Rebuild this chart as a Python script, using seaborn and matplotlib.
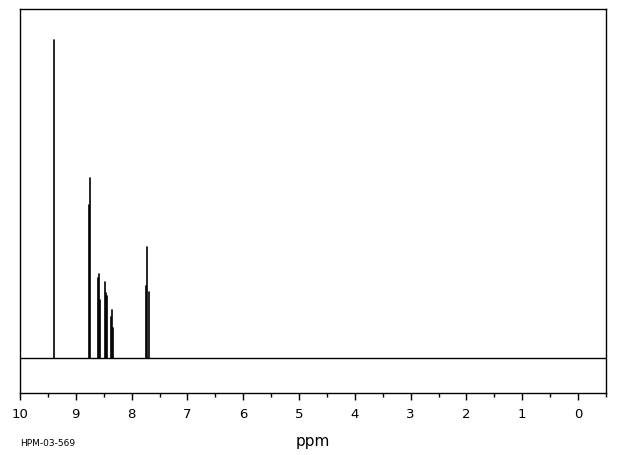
import numpy as np
import pandas as pd
import matplotlib
matplotlib.use("Agg")
import matplotlib.pyplot as plt
import seaborn as sns
from matplotlib.ticker import MultipleLocator

# peak positions (ppm) and heights (arbitrary units)
peak_ppm = [9.385, 8.758, 8.740, 8.597, 8.579, 8.561, 8.471, 8.453, 8.435,
            8.369, 8.351, 8.333, 7.742, 7.724, 7.683]
peak_height = [318, 153, 180, 80, 84, 58, 76, 65, 62, 41, 48, 30, 72, 111, 66]
tick_ppm = list(range(0, 11))
sample_id = "HPM-03-569"

# stick spectrum: each peak goes from the baseline up to its height
rows = []
for i, (p, h) in enumerate(zip(peak_ppm, peak_height)):
    rows.append({"peak": i, "ppm": p, "intensity": 0})
    rows.append({"peak": i, "ppm": p, "intensity": h})
df = pd.DataFrame(rows)

sns.set_style("white")
plt.rcParams["font.family"] = ["DejaVu Sans"]

fig = plt.figure(figsize=(6.2, 4.55), dpi=100)
ax = fig.add_axes([20 / 620, 62 / 455, 586 / 620, 384 / 455])

sns.lineplot(data=df, x="ppm", y="intensity", units="peak", estimator=None,
             color="black", linewidth=1.2, ax=ax, legend=False)
ax.axhline(0, color="black", linewidth=1)

ax.set_xlim(10, -0.5)
ax.set_ylim(-35, 349)
ax.set_xticks(tick_ppm)
ax.set_xticklabels([str(t) for t in tick_ppm])
ax.xaxis.set_minor_locator(MultipleLocator(0.5))
ax.set_yticks([])
ax.tick_params(axis="x", which="major", direction="out", length=5, width=1,
               color="black", labelcolor="black", labelsize=9.5, pad=6, bottom=True)
ax.tick_params(axis="x", which="minor", direction="out", length=3, width=1,
               color="black", bottom=True)
ax.set_ylabel("")
ax.set_xlabel("ppm", fontsize=11, labelpad=9, color="black")
for s in ax.spines.values():
    s.set_color("black")
    s.set_linewidth(1)

fig.text(20 / 620, 1 - 443 / 455, sample_id, fontsize=6.5, va="center", ha="left",
         color="black")

fig.savefig("out.png", dpi=100)
